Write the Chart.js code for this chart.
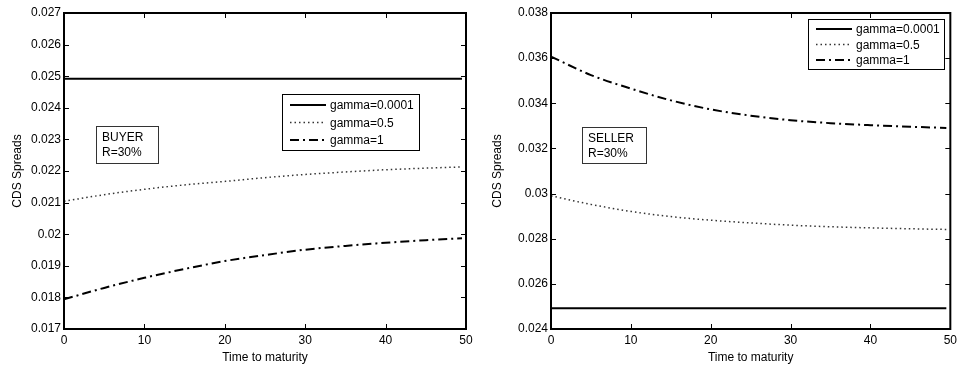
<!DOCTYPE html>
<html>
<head>
<meta charset="utf-8">
<script src="https://cdn.jsdelivr.net/npm/chart.js@4.4.1/dist/chart.umd.min.js"></script>
<style>
  body { margin: 0; background: #fff; }
  .panel { position: absolute; top: 0; }
</style>
</head>
<body>
<div class="panel" style="left:0"><canvas id="buyerChart" width="480" height="367"></canvas></div>
<div class="panel" style="left:480px"><canvas id="sellerChart" width="481" height="367"></canvas></div>
<script>
// time to maturity (x) for every series
const maturity = [0, 5, 10, 15, 20, 25, 30, 35, 40, 45, 49.5];
const seriesNames = ['gamma=0.0001', 'gamma=0.5', 'gamma=1'];

// buyer panel
const buyerGamma0 = [0.02492, 0.02492, 0.02492, 0.02492, 0.02492, 0.02492, 0.02492, 0.02492, 0.02492, 0.02492, 0.02492];
const buyerGamma05 = [0.02104, 0.02125, 0.02142, 0.02156, 0.02167, 0.02179, 0.02189, 0.02197, 0.02204, 0.02209, 0.02213];
const buyerGamma1 = [0.01794, 0.01830, 0.01862, 0.01890, 0.01915, 0.01934, 0.01951, 0.01963, 0.01973, 0.01981, 0.01987];
const buyerNote = ['BUYER', 'R=30%'];

// seller panel
const sellerGamma0 = [0.02492, 0.02492, 0.02492, 0.02492, 0.02492, 0.02492, 0.02492, 0.02492, 0.02492, 0.02492, 0.02492];
const sellerGamma05 = [0.02990, 0.02952, 0.02921, 0.02898, 0.02882, 0.02870, 0.02860, 0.02853, 0.02848, 0.02844, 0.02841];
const sellerGamma1 = [0.03607, 0.03525, 0.03465, 0.03413, 0.03373, 0.03345, 0.03325, 0.03312, 0.03303, 0.03296, 0.03291];
const sellerNote = ['SELLER', 'R=30%'];

Chart.defaults.font.family = "'Liberation Sans', Arial, sans-serif";
Chart.defaults.font.size = 12;
Chart.defaults.color = '#000';

const toPoints = ys => ys.map((y, i) => ({ x: maturity[i], y: y }));

// matlab style frame, inward ticks, legend box and text box
const matlabBox = {
  id: 'matlabBox',
  afterDraw(chart, args, opts) {
    const { ctx, chartArea: a, scales } = chart;
    ctx.save();
    ctx.strokeStyle = '#000';
    ctx.lineWidth = 1;
    ctx.setLineDash([]);
    ctx.beginPath();
    scales.x.ticks.forEach(t => {
      const px = Math.round(scales.x.getPixelForValue(t.value)) + 0.5;
      ctx.moveTo(px, a.bottom); ctx.lineTo(px, a.bottom - 5);
      ctx.moveTo(px, a.top); ctx.lineTo(px, a.top + 5);
    });
    scales.y.ticks.forEach(t => {
      const py = Math.round(scales.y.getPixelForValue(t.value)) + 0.5;
      ctx.moveTo(a.left, py); ctx.lineTo(a.left + 5, py);
      ctx.moveTo(a.right, py); ctx.lineTo(a.right - 5, py);
    });
    ctx.stroke();
    ctx.lineWidth = 2;
    ctx.strokeRect(a.left, a.top, a.right - a.left, a.bottom - a.top);

    // legend
    const lg = opts.legend;
    const lx = a.left + lg.x, ly = a.top + lg.y;
    ctx.fillStyle = '#fff';
    ctx.fillRect(lx, ly, lg.w, lg.h);
    ctx.lineWidth = 1;
    ctx.strokeRect(lx + 0.5, ly + 0.5, lg.w, lg.h);
    ctx.font = "12px 'Liberation Sans', Arial, sans-serif";
    ctx.textBaseline = 'middle';
    ctx.fillStyle = '#000';
    chart.data.datasets.forEach((ds, i) => {
      const ry = ly + lg.firstRow + i * lg.rowH;
      ctx.save();
      ctx.strokeStyle = ds.borderColor;
      ctx.lineWidth = ds.borderWidth;
      ctx.setLineDash(ds.borderDash || []);
      ctx.beginPath();
      ctx.moveTo(lx + 8, ry);
      ctx.lineTo(lx + 44, ry);
      ctx.stroke();
      ctx.restore();
      ctx.fillText(ds.label, lx + 48, ry + 1);
    });

    // text box
    const nb = opts.note;
    const nx = a.left + nb.x, ny = a.top + nb.y;
    ctx.strokeStyle = '#333';
    ctx.strokeRect(nx + 0.5, ny + 0.5, nb.w, nb.h);
    nb.lines.forEach((s, i) => ctx.fillText(s, nx + 6, ny + 12 + i * 15));
    ctx.restore();
  }
};

function makeChart(id, ys, yMin, yMax, yStep, padRight, yWidth, legendBox, noteBox) {
  const styles = [
    { borderColor: '#000', borderWidth: 2, borderDash: [] },
    { borderColor: '#333', borderWidth: 1.5, borderDash: [1.5, 3] },
    { borderColor: '#000', borderWidth: 2, borderDash: [9, 4, 2, 4] }
  ];
  new Chart(document.getElementById(id).getContext('2d'), {
    type: 'line',
    data: {
      datasets: ys.map((s, i) => Object.assign({
        label: seriesNames[i],
        data: toPoints(s),
        pointRadius: 0,
        fill: false,
        cubicInterpolationMode: 'monotone'
      }, styles[i]))
    },
    options: {
      responsive: false,
      animation: false,
      layout: { padding: { top: 13, right: padRight, left: 0, bottom: 0 } },
      plugins: {
        legend: { display: false },
        tooltip: { enabled: false },
        matlabBox: { legend: legendBox, note: noteBox }
      },
      scales: {
        x: {
          type: 'linear',
          min: 0,
          max: 50,
          ticks: { stepSize: 10, padding: 4, maxRotation: 0 },
          grid: { display: false, drawTicks: false },
          border: { display: false },
          title: { display: true, text: 'Time to maturity', padding: { top: 0, bottom: 2 } },
          afterFit: s => { s.height = 38; }
        },
        y: {
          min: yMin,
          max: yMax,
          ticks: { stepSize: yStep, padding: 3, callback: v => String(parseFloat(v.toFixed(4))) },
          grid: { display: false, drawTicks: false },
          border: { display: false },
          title: { display: true, text: 'CDS Spreads', padding: { top: 10, bottom: 0 } },
          afterFit: s => { s.width = yWidth; }
        }
      }
    },
    plugins: [matlabBox]
  });
}

makeChart('buyerChart', [buyerGamma0, buyerGamma05, buyerGamma1], 0.017, 0.027, 0.001, 14, 64,
  { x: 218, y: 81, w: 137, h: 56, firstRow: 11, rowH: 17.5 },
  { x: 32, y: 113, w: 62, h: 37, lines: buyerNote });

makeChart('sellerChart', [sellerGamma0, sellerGamma05, sellerGamma1], 0.024, 0.038, 0.002, 8, 71,
  { x: 257, y: 6, w: 136, h: 50, firstRow: 10, rowH: 15.5 },
  { x: 31, y: 114, w: 64, h: 36, lines: sellerNote });
</script>
</body>
</html>
